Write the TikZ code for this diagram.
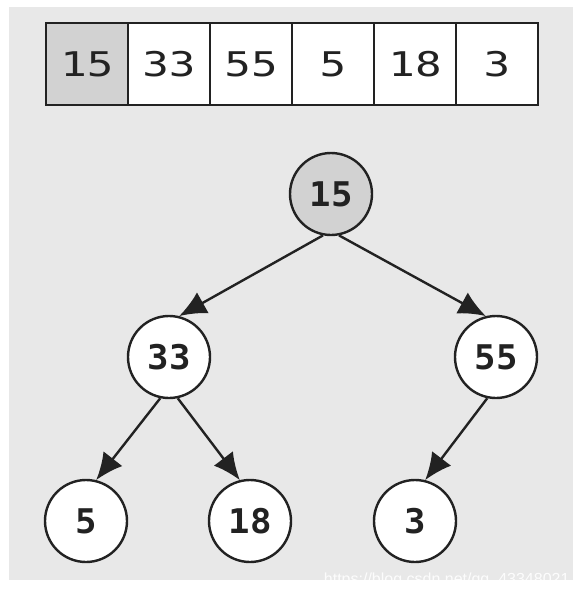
\documentclass[tikz,border=0pt]{standalone}
\usepackage{fontspec}
\usetikzlibrary{arrows.meta}
\newfontfamily\cellfont[FakeStretch=1.3]{DejaVu Sans Mono}
\newfontfamily\treefont[FakeStretch=1.05]{DejaVu Sans Mono Bold}
\newfontfamily\markfont{Liberation Sans}
\definecolor{bgcol}{HTML}{E8E8E8}
\definecolor{inkcol}{HTML}{222222}
\definecolor{rootcol}{HTML}{D2D2D2}
\tikzset{
  cell/.style={draw=inkcol,line width=2.8pt,fill=white,minimum width=82pt,minimum height=82pt,inner sep=0pt,text=inkcol,font=\cellfont\fontsize{34}{34}\selectfont},
  heapnode/.style={circle,draw=inkcol,line width=2.4pt,fill=white,minimum size=82pt,inner sep=0pt,text=inkcol,font=\treefont\fontsize{34}{34}\selectfont},
  link/.style={draw=inkcol,line width=2.4pt,-{Latex[length=27pt,width=24pt]}}
}
\begin{document}
\begin{tikzpicture}[x=1pt,y=-1pt]
            \useasboundingbox (0,0) rectangle (583,594);
            \fill[bgcol] (9,7) rectangle (573,580);
            % array
            \foreach \v [count=\i from 0] in {15,33,55,5,18,3}
                \node[cell] (c\i) at (87+82*\i,64) {\v};
            \node[cell,fill=rootcol] at (c0) {15};
            % heap
            \node[heapnode,fill=rootcol] (n15) at (331,194) {15};
            \node[heapnode] (n33) at (169,357) {33};
            \node[heapnode] (n55) at (496,357) {55};
            \node[heapnode] (n5) at (86,521) {5};
            \node[heapnode] (n18) at (250,521) {18};
            \node[heapnode] (n3) at (415,521) {3};
            \draw[link] (n15.259) -- (n33.76);
            \draw[link] (n15.281) -- (n55.104);
            \draw[link] (n33.258) -- (n5.76);
            \draw[link] (n33.282) -- (n18.104);
            \draw[link] (n55.258) -- (n3.76);
            \node[anchor=base east,text=white,opacity=0.9,font=\markfont\fontsize{16}{16}\selectfont] (mark) at (573,584) {https://blog.csdn.net/qq\_43348021};
        \end{tikzpicture}
\end{document}
